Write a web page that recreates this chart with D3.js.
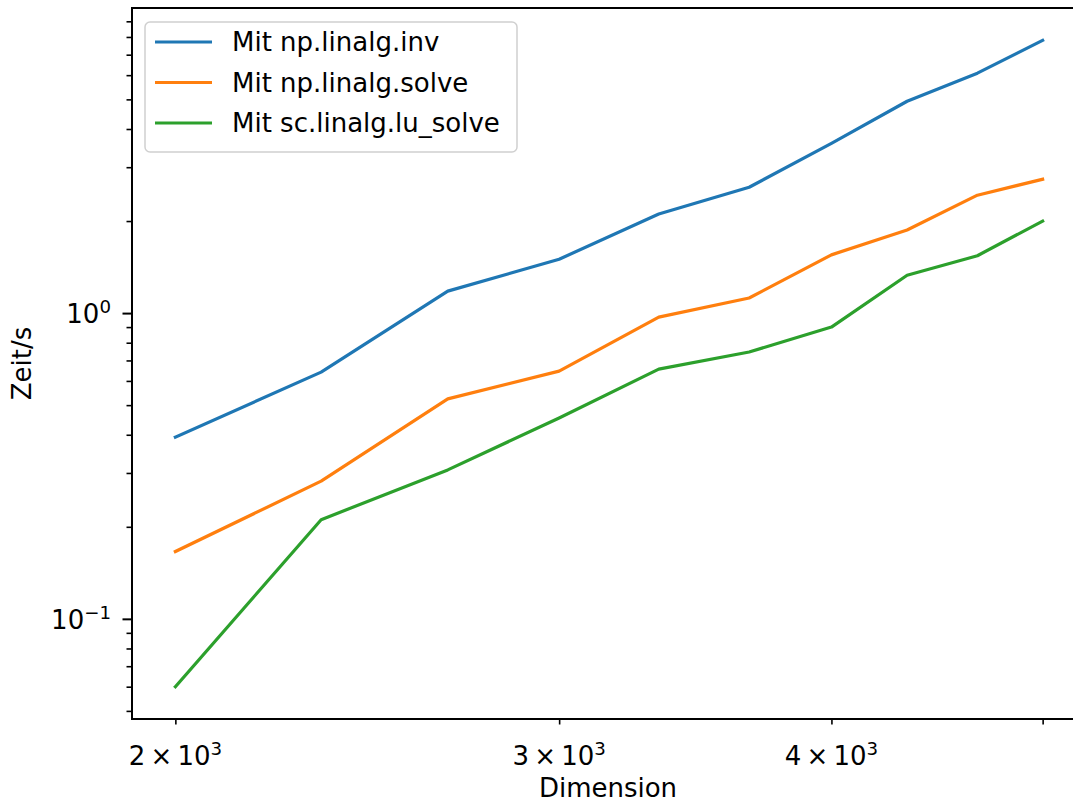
<!DOCTYPE html>
<html>
<head>
<meta charset="utf-8">
<script src="https://cdn.jsdelivr.net/npm/d3@7"></script>
<style>
  html, body { margin: 0; background: #fff; overflow: hidden; width: 1073px; height: 803px; }
  #plot { width: 1073px; height: 803px; overflow: hidden; }
  svg { display: block; font-family: "DejaVu Sans", sans-serif; }
  .axis path, .axis line { stroke: #000; }
  .axis text { fill: #000; }
</style>
</head>
<body>
<div id="plot"></div>
<script>
// measured timings (seconds) vs. matrix dimension
var dimensions = [2000, 2333, 2667, 3000, 3333, 3667, 4000, 4333, 4667, 5000];
var timeInv     = [0.393, 0.641, 1.18, 1.50, 2.11, 2.58, 3.59, 4.93, 6.09, 7.80];
var timeSolve   = [0.166, 0.282, 0.524, 0.646, 0.970, 1.12, 1.55, 1.87, 2.43, 2.74];
var timeLuSolve = [0.060, 0.211, 0.307, 0.454, 0.656, 0.746, 0.900, 1.33, 1.54, 2.00];

var seriesNames = ["Mit np.linalg.inv", "Mit np.linalg.solve", "Mit sc.linalg.lu_solve"];
var seriesColors = ["#1f77b4", "#ff7f0e", "#2ca02c"];

var xTickValues = [2000, 3000, 4000, 5000];
var xTickLabels = ["2", "3", "4", ""];
var yMajorTicks = [0.1, 1];
var yMajorExp = ["\u22121", "0"];
var yMinorTicks = [0.05, 0.06, 0.07, 0.08, 0.09, 0.2, 0.3, 0.4, 0.5, 0.6, 0.7, 0.8, 0.9, 2, 3, 4, 5, 6, 7, 8, 9];

var margin = { top: 8, left: 132 };
var width = 954;   // the original figure is cropped before its right spine
var height = 711;
var fs = 26;

var svg = d3.select("div#plot")
  .append("svg")
    .attr("width", 1120)
    .attr("height", 803)
  .append("g")
    .attr("transform", "translate(" + margin.left + "," + margin.top + ")");

// matplotlib-style 5% margins in log space
function logPad(ext) {
  var a = Math.log10(ext[0]), b = Math.log10(ext[1]), m = (b - a) * 0.05;
  return [Math.pow(10, a - m), Math.pow(10, b + m)];
}
var allY = timeInv.concat(timeSolve, timeLuSolve);

var xscale = d3.scaleLog()
  .domain(logPad(d3.extent(dimensions)))
  .range([0, width]);

var yscale = d3.scaleLog()
  .domain(logPad(d3.extent(allY)))
  .range([height, 0]);

// x ticks (minor-length in the original)
var xAxis = svg.append("g")
  .attr("class", "x axis")
  .attr("transform", "translate(0," + height + ")")
  .call(d3.axisBottom(xscale).tickValues(xTickValues).tickSize(5.5).tickFormat(""));
xAxis.select(".domain").remove();
xAxis.selectAll("line").attr("stroke-width", 1.6);

svg.selectAll("text.xtick")
  .data(xTickValues.filter(function(d, i) { return xTickLabels[i] !== ""; }))
  .enter().append("text")
    .attr("class", "xtick")
    .attr("x", function(d) { return xscale(d); })
    .attr("y", height + 46)
    .attr("text-anchor", "middle")
    .style("font-size", fs + "px")
    .each(function(d, i) {
      var t = d3.select(this);
      t.append("tspan").text(xTickLabels[i] + "\u2009\u00d7\u200910");
      t.append("tspan").attr("dy", -10).style("font-size", (fs * 0.7) + "px").text("3");
    });

// y ticks
var yMinor = svg.append("g")
  .attr("class", "y axis")
  .call(d3.axisLeft(yscale).tickValues(yMinorTicks).tickSize(5.5).tickFormat(""));
yMinor.select(".domain").remove();
yMinor.selectAll("line").attr("stroke-width", 1.6);

var yMajor = svg.append("g")
  .attr("class", "y axis")
  .call(d3.axisLeft(yscale).tickValues(yMajorTicks).tickSize(9.5).tickFormat(""));
yMajor.select(".domain").remove();
yMajor.selectAll("line").attr("stroke-width", 2);

svg.selectAll("text.ytick")
  .data(yMajorTicks)
  .enter().append("text")
    .attr("class", "ytick")
    .attr("x", -21)
    .attr("y", function(d) { return yscale(d) + 10; })
    .attr("text-anchor", "end")
    .style("font-size", fs + "px")
    .each(function(d, i) {
      var t = d3.select(this);
      t.append("tspan").text("10");
      t.append("tspan").attr("dy", -10).style("font-size", (fs * 0.7) + "px").text(yMajorExp[i]);
    });

// lines
var series = [timeInv, timeSolve, timeLuSolve];
var line = d3.line()
  .x(function(d, i) { return xscale(dimensions[i]); })
  .y(function(d) { return yscale(d); });

svg.selectAll("path.series")
  .data(series)
  .enter().append("path")
    .attr("class", "series")
    .attr("fill", "none")
    .attr("stroke", function(d, i) { return seriesColors[i]; })
    .attr("stroke-width", 3.2)
    .attr("stroke-linejoin", "round")
    .attr("stroke-linecap", "square")
    .attr("d", line);

// frame
svg.append("rect")
  .attr("width", width)
  .attr("height", height)
  .attr("fill", "none")
  .attr("stroke", "#000")
  .attr("stroke-width", 2);

// axis labels
svg.append("text")
  .attr("x", 476)
  .attr("y", height + 78)
  .attr("text-anchor", "middle")
  .style("font-size", fs + "px")
  .text("Dimension");

svg.append("text")
  .attr("transform", "translate(" + (-margin.left + 31) + "," + (height / 2) + ") rotate(-90)")
  .attr("text-anchor", "middle")
  .style("font-size", fs + "px")
  .text("Zeit/s");

// legend
var lg = svg.append("g").attr("transform", "translate(13,14)");
lg.append("rect")
  .attr("width", 372)
  .attr("height", 130)
  .attr("rx", 5)
  .attr("fill", "#fff")
  .attr("fill-opacity", 0.8)
  .attr("stroke", "#d0d0d0")
  .attr("stroke-width", 1.5);

var legend = lg.selectAll(".legend")
  .data(seriesNames)
  .enter().append("g")
    .attr("class", "legend")
    .attr("transform", function(d, i) { return "translate(0," + (20 + i * 40.5) + ")"; });

legend.append("line")
  .attr("x1", 10)
  .attr("x2", 67)
  .attr("stroke", function(d, i) { return seriesColors[i]; })
  .attr("stroke-width", 3.2);

legend.append("text")
  .attr("x", 87)
  .attr("dy", "0.35em")
  .style("font-size", fs + "px")
  .text(function(d) { return d; });
</script>
</body>
</html>
